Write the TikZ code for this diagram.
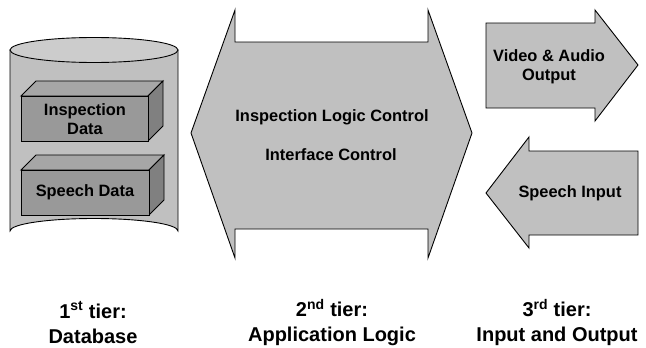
\documentclass[tikz,border=0pt]{standalone}
\usepackage{fontspec}
\setmainfont{Liberation Sans}
\usetikzlibrary{calc}
\definecolor{cylside}{HTML}{C0C0C0}
\definecolor{cyltop}{HTML}{CCCCCC}
\definecolor{boxfront}{HTML}{999999}
\definecolor{boxtop}{HTML}{A6A6A6}
\definecolor{boxside}{HTML}{808080}
\definecolor{arrowfill}{HTML}{C0C0C0}
\tikzset{
  outline/.style={draw=black, line width=0.9pt, line join=miter},
  inner/.style={font=\bfseries\fontsize{16.4}{19}\selectfont, align=center, inner sep=0pt},
  tierlabel/.style={font=\bfseries\fontsize{20}{25}\selectfont, align=center, inner sep=0pt},
}
% 3D data boxes: front face, top face, side face
\newcommand{\databox}[5]{% x1,y1,x2,y2,depth
  \path[outline, fill=boxtop] (#1,#2) -- ++(#5,-#5) -- (#3+#5,#2-#5) -- (#3,#2) -- cycle;
  \path[outline, fill=boxside] (#3,#2) -- (#3+#5,#2-#5) -- (#3+#5,#4-#5) -- (#3,#4) -- cycle;
  \path[outline, fill=boxfront] (#1,#2) rectangle (#3,#4);
}
\begin{document}
\begin{tikzpicture}[x=1pt, y=-1pt]
\useasboundingbox (0,0) rectangle (646,348);

% ---- 1st tier: database cylinder ----
\path[outline, fill=cylside]
  (10,50) -- (10,231) arc[start angle=180, end angle=360, x radius=84, y radius=12.5]
  -- (178,50) -- cycle;
\path[outline, fill=cyltop] (94,50) ellipse[x radius=84, y radius=12.5];

\databox{21}{96}{148}{141}{15}
\databox{21}{170}{149}{215}{15}
\node[inner] (insp) at (85,119) {Inspection\\Data};
\node[inner] (speechdata) at (85,192.5) {Speech Data};

% ---- 2nd tier: double-headed arrow ----
\path[outline, fill=arrowfill]
  (191,133) -- (235,10) -- (235,42) -- (428,42) -- (428,10) -- (472,133)
  -- (428,258) -- (428,229) -- (235,229) -- (235,258) -- cycle;
\node[inner] (logic) at (332,117) {Inspection Logic Control};
\node[inner] (iface) at (331,155) {Interface Control};

% ---- 3rd tier: output and input arrows ----
\path[outline, fill=arrowfill]
  (486,23) -- (595,23) -- (595,10) -- (638,65) -- (595,121) -- (595,108) -- (486,108) -- cycle;
\node[inner] (out) at (549,67) {Video \& Audio\\Output};
\path[outline, fill=arrowfill]
  (486,193) -- (529,137) -- (529,151) -- (638,151) -- (638,235) -- (529,235) -- (529,248) -- cycle;
\node[inner] (in) at (570,193) {Speech Input};

% ---- tier captions ----
\node[tierlabel] (t1) at (93,322.5) {1\textsuperscript{st} tier:\\Database};
\node[tierlabel] (t2) at (332,322.5) {2\textsuperscript{nd} tier:\\Application Logic};
\node[tierlabel] (t3) at (557,322.5) {3\textsuperscript{rd} tier:\\Input and Output};
\end{tikzpicture}
\end{document}
